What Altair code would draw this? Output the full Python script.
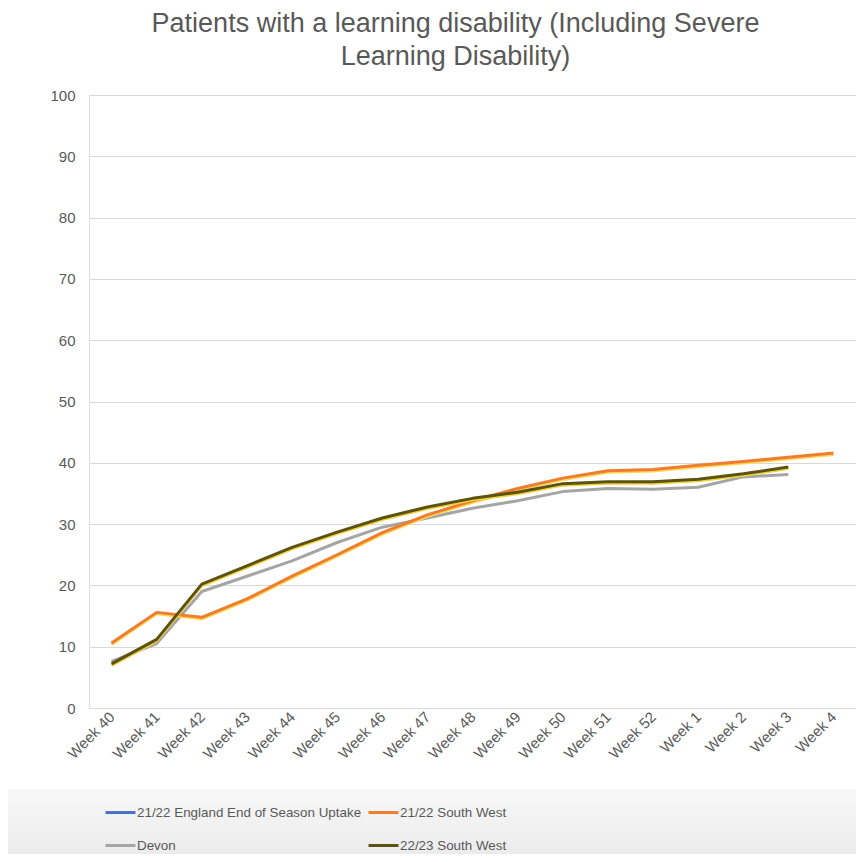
import altair as alt
import pandas as pd

weeks = ["Week 40", "Week 41", "Week 42", "Week 43", "Week 44", "Week 45", "Week 46",
         "Week 47", "Week 48", "Week 49", "Week 50", "Week 51", "Week 52", "Week 1",
         "Week 2", "Week 3", "Week 4"]
sw2122 = [10.6, 15.6, 14.8, 17.8, 21.5, 25.0, 28.6, 31.5, 33.8, 35.8, 37.5, 38.7, 38.9, 39.6, 40.2, 40.9, 41.6]
sw2223 = [7.2, 11.2, 20.2, 23.2, 26.2, 28.7, 31.0, 32.8, 34.2, 35.2, 36.6, 36.9, 36.9, 37.3, 38.2, 39.3, None]
devon = [7.6, 10.5, 19.0, 21.5, 24.0, 27.0, 29.5, 31.0, 32.6, 33.8, 35.3, 35.8, 35.7, 36.0, 37.7, 38.1, None]

# legend order (column-major in a 2-column legend)
series_names = ["21/22 England End of Season Uptake", "Devon", "21/22 South West", "22/23 South West"]
colors = ["#4472C4", "#A5A5A5", "#ED7D31", "#5C5214"]

rows = []
for name, vals in [("21/22 South West", sw2122), ("Devon", devon), ("22/23 South West", sw2223)]:
    for w, v in zip(weeks, vals):
        if v is not None:
            rows.append({"week": w, "value": v, "series": name})
df = pd.DataFrame(rows)

FONT = "Liberation Sans"
GREY_TEXT = "#595959"

x_enc = alt.X("week:N", sort=weeks, title=None,
              axis=alt.Axis(labelAngle=-45, labelAlign="right", labelBaseline="middle",
                            labelFontSize=15, labelColor=GREY_TEXT, labelFont=FONT,
                            domain=False, ticks=False, grid=False, labelPadding=6))
y_enc = alt.Y("value:Q", title=None,
              scale=alt.Scale(domain=[0, 100], nice=False),
              axis=alt.Axis(values=list(range(0, 101, 10)), labelFontSize=15, labelColor=GREY_TEXT,
                            labelFont=FONT, domain=False, ticks=False, labelPadding=14,
                            gridColor="#d9d9d9", gridWidth=1))

base = alt.Chart(df)

band = alt.Chart(pd.DataFrame({"a": [0]})).mark_rect(
    color=alt.Gradient(gradient="linear", x1=0, y1=0, x2=0, y2=1,
                       stops=[alt.GradientStop(color="#f8f8f8", offset=0),
                              alt.GradientStop(color="#ebebeb", offset=1)])
).encode(x=alt.value(-89), x2=alt.value(777), y=alt.value(694), y2=alt.value(760))

def fringe(name, col):
    return base.transform_filter(alt.datum.series == name).mark_line(
        strokeWidth=3, color=col, yOffset=1.5, strokeJoin="round").encode(x=x_enc, y=y_enc)

def main(name, width=3):
    return base.transform_filter(alt.datum.series == name).mark_line(
        strokeWidth=width, strokeJoin="round").encode(
        x=x_enc, y=y_enc,
        color=alt.Color("series:N", scale=alt.Scale(domain=series_names, range=colors),
                        legend=alt.Legend(title=None, orient="none", legendX=15, legendY=701,
                                          columns=2, symbolType="stroke", symbolSize=900,
                                          symbolStrokeWidth=3, labelFontSize=13.4,
                                          labelColor=GREY_TEXT, labelFont=FONT, labelLimit=400,
                                          labelOffset=0, columnPadding=0, rowPadding=10,
                                          padding=0)))

chart = alt.layer(
    band,
    main("Devon"),
    fringe("21/22 South West", "#FFD54F"),
    main("21/22 South West"),
    fringe("22/23 South West", "#F2D33A"),
    main("22/23 South West"),
).properties(
    width=767, height=613,
    title=alt.TitleParams(text=["Patients with a learning disability (Including Severe",
                                "Learning Disability)"],
                          fontSize=27, font=FONT, color=GREY_TEXT, fontWeight="normal",
                          anchor="middle", dx=-17, offset=17, lineHeight=33),
    autosize=alt.AutoSizeParams(type="none"),
    padding={"left": 81, "top": 87, "right": 0, "bottom": 146},
).configure_view(stroke=None).configure(background="white")

chart.save("out.html", embed_options={"renderer": "svg", "actions": False})
